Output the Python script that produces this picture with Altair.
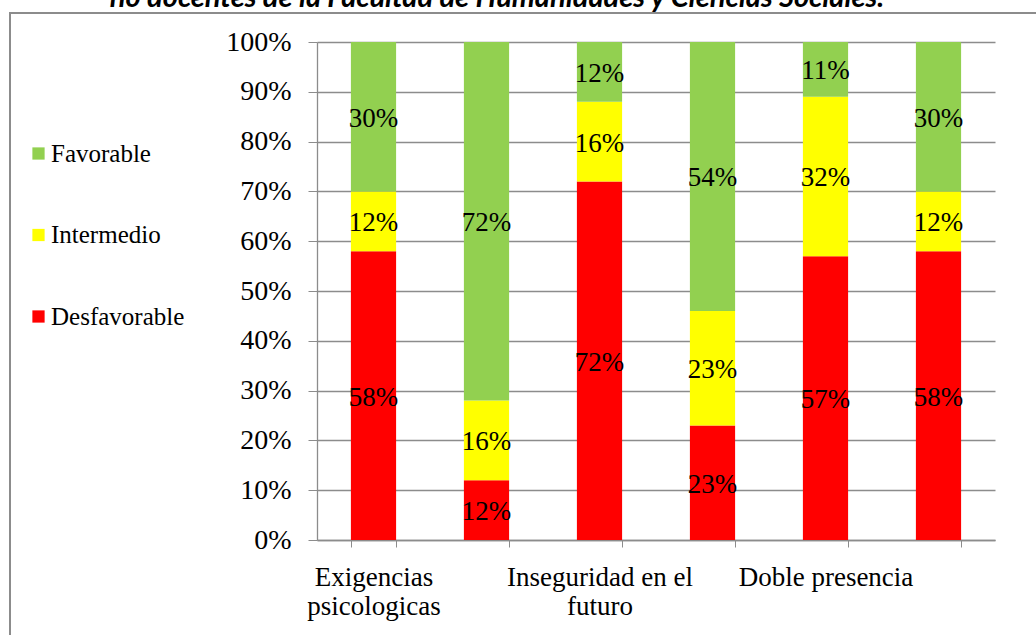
import altair as alt
import pandas as pd

# Dimensions (only odd ones carry a visible label on the axis)
categories = [
    "Exigencias psicologicas",
    "Trabajo activo y desarrollo de habilidades",
    "Inseguridad en el futuro",
    "Apoyo social y calidad de liderazgo",
    "Doble presencia",
    "Estima",
]
shown_labels = {
    "Exigencias psicologicas": ["Exigencias", "psicologicas"],
    "Inseguridad en el futuro": ["Inseguridad en el", "futuro"],
    "Doble presencia": ["Doble presencia"],
}

levels = ["Favorable", "Intermedio", "Desfavorable"]
level_colors = ["#92D050", "#FFFF00", "#FF0000"]
stack_order = {"Desfavorable": 0, "Intermedio": 1, "Favorable": 2}

desfavorable = [58, 12, 72, 23, 57, 58]
intermedio = [12, 16, 16, 23, 32, 12]
favorable = [30, 72, 12, 54, 11, 30]

title_text = "no docentes de la Facultad de Humanidades y Ciencias Sociales."

rows = []
for i, cat in enumerate(categories):
    for lvl, vals in (("Desfavorable", desfavorable), ("Intermedio", intermedio), ("Favorable", favorable)):
        rows.append({"categoria": cat, "nivel": lvl, "valor": vals[i], "orden": stack_order[lvl]})
df = pd.DataFrame(rows)

# axis label expression: multi-line labels for odd categories, blank otherwise
expr = "''"
for cat, lines in reversed(list(shown_labels.items())):
    arr = "[" + ",".join("'" + l + "'" for l in lines) + "]"
    expr = f"datum.value == '{cat}' ? {arr} : ({expr})"

SERIF = "Liberation Serif"
GRAY = "#8C8C8C"
W, H = 678, 498

x_enc = alt.X(
    "categoria:N",
    sort=categories,
    title=None,
    scale=alt.Scale(paddingInner=0.6, paddingOuter=0.3),
    axis=alt.Axis(
        labelExpr=expr,
        labelAngle=0,
        labelFont=SERIF,
        labelFontSize=27,
        labelColor="black",
        labelLineHeight=29,
        labelPadding=17,
        labelOverlap=False,
        labelLimit=400,
        tickBand="extent",
        tickSize=7,
        tickColor=GRAY,
        domainColor=GRAY,
        domainWidth=1.3,
        grid=False,
    ),
)

y_scale = alt.Scale(domain=[0, 100], nice=False)

base = alt.Chart(df).transform_stack(
    stack="valor",
    groupby=["categoria"],
    sort=[alt.SortField("orden", order="ascending")],
    as_=["y0", "y1"],
).transform_calculate(
    mid="(datum.y0 + datum.y1) / 2",
    etiqueta="datum.valor + '%'",
)

bars = base.mark_bar().encode(
    x=x_enc,
    y=alt.Y(
        "y0:Q",
        scale=y_scale,
        title=None,
        axis=alt.Axis(
            values=list(range(0, 101, 10)),
            labelExpr="datum.value + '%'",
            labelFont=SERIF,
            labelFontSize=28,
            labelColor="black",
            labelPadding=17,
            tickSize=9,
            tickColor=GRAY,
            domainColor=GRAY,
            domainWidth=1.3,
            grid=True,
            gridColor=GRAY,
            gridWidth=1.3,
        ),
    ),
    y2="y1:Q",
    color=alt.Color(
        "nivel:N",
        scale=alt.Scale(domain=levels, range=level_colors),
        legend=alt.Legend(
            title=None,
            orient="none",
            legendX=-291,
            legendY=99,
            symbolType="square",
            symbolSize=150,
            symbolStrokeWidth=0,
            labelFont=SERIF,
            labelFontSize=25,
            labelColor="black",
            labelOffset=0,
            rowPadding=55.5,
            labelLimit=300,
        ),
    ),
)

labels = base.mark_text(font=SERIF, fontSize=27, color="black", baseline="middle", dy=2).encode(
    x=alt.X("categoria:N", sort=categories),
    y=alt.Y("mid:Q", scale=y_scale),
    text="etiqueta:N",
)

deco = alt.Chart(pd.DataFrame({"t": [title_text]}))

frame = deco.mark_rect(fill=None, stroke=GRAY, strokeWidth=2).encode(
    x=alt.value(-307), y=alt.value(-29), x2=alt.value(760), y2=alt.value(700)
)

title = deco.mark_text(
    font="Lato", fontSize=29, fontWeight="bold", fontStyle="italic",
    color="black", align="center", baseline="alphabetic",
).encode(x=alt.value(180), y=alt.value(-35), text="t:N")

chart = alt.layer(frame, bars, labels, title).properties(
    width=W,
    height=H,
    padding={"left": 317, "top": 42, "right": 41, "bottom": 95},
    autosize=alt.AutoSizeParams(type="none"),
    background="white",
).configure_view(stroke=None)

chart.save("out.html", embed_options={"renderer": "svg", "actions": False})
